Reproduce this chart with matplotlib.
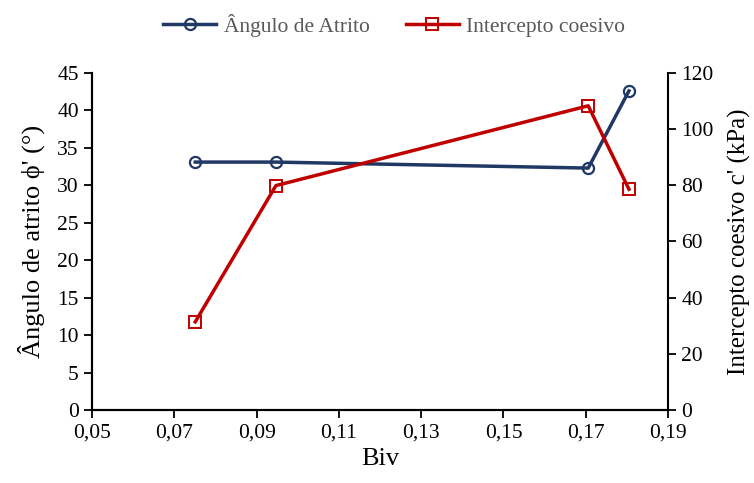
import matplotlib
matplotlib.use("Agg")
import matplotlib.pyplot as plt
from matplotlib.ticker import FuncFormatter

plt.rcParams['font.family'] = ['Liberation Serif', 'DejaVu Serif']

biv = [0.0751, 0.0947, 0.1706, 0.1805]
angulo = [33.1, 33.1, 32.3, 42.6]
intercepto = [31.4, 79.9, 108.3, 78.6]

blue = "#1F3864"
red = "#C00000"

fig = plt.figure(figsize=(7.54, 4.83), dpi=100)
ax = fig.add_axes([0.122, 0.151, 0.764, 0.698])
ax2 = ax.twinx()

l1, = ax.plot(biv, angulo, color=blue, lw=2.5, marker='o', ms=8,
              mfc='none', mec=blue, mew=1.6, label="Ângulo de Atrito")
l2, = ax2.plot(biv, intercepto, color=red, lw=2.5, marker='s', ms=8,
               mfc='none', mec=red, mew=1.4, label="Intercepto coesivo")

ax.set_xlim(0.05, 0.19)
ax.set_xticks([0.05, 0.07, 0.09, 0.11, 0.13, 0.15, 0.17, 0.19])
ax.xaxis.set_major_formatter(FuncFormatter(lambda v, p: f"{v:.2f}".replace('.', ',')))
ax.set_ylim(0, 45)
ax.set_yticks(range(0, 46, 5))
ax2.set_ylim(0, 120)
ax2.set_yticks(range(0, 121, 20))

for a in (ax, ax2):
    a.spines['top'].set_visible(False)
    a.tick_params(labelsize=15.5, width=1.3, length=6, direction='out')
    for s in a.spines.values():
        s.set_linewidth(1.5)
ax.spines['right'].set_visible(False)

ax.set_xlabel("Biv", fontsize=19)
ax.set_ylabel("Ângulo de atrito ϕ' (°)", fontsize=19, labelpad=9)
ax2.set_ylabel("Intercepto coesivo c' (kPa)", fontsize=18, labelpad=10)

fig.legend(handles=[l1, l2], loc='upper center', bbox_to_anchor=(0.523, 1.012),
           ncol=2, frameon=False, fontsize=15.5, labelcolor="#595959",
           handlelength=2.45, columnspacing=1.7, handletextpad=0.35)

fig.savefig("out.png", dpi=100)
